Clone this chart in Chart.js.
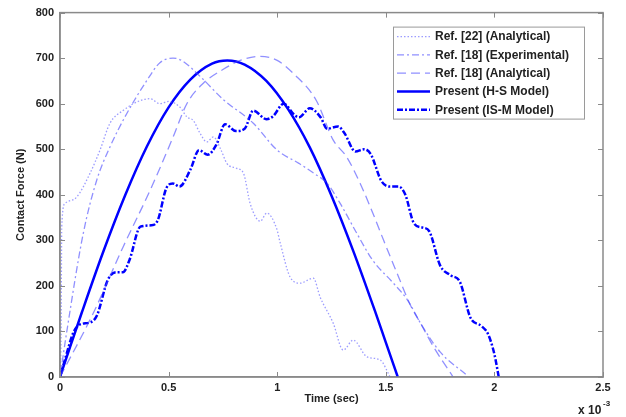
<!DOCTYPE html>
<html>
<head>
<meta charset="utf-8">
<script src="https://cdn.jsdelivr.net/npm/chart.js@4/dist/chart.umd.min.js"></script>
<style>
  html, body { margin: 0; padding: 0; background: #fff; }
  #wrap { width: 626px; height: 417px; }
</style>
</head>
<body>
<div id="wrap"><canvas id="chart"></canvas></div>
<script>
// time values are in units of 1e-3 s (axis shows "x 10^-3")
const ref22Time = [0, 0.005, 0.008, 0.023, 0.077, 0.138, 0.184, 0.23, 0.29, 0.37, 0.415, 0.46, 0.5, 0.553, 0.584, 0.614, 0.645, 0.676, 0.706, 0.74, 0.768, 0.814, 0.845, 0.876, 0.922, 0.952, 0.998, 1.014, 1.06, 1.106, 1.166, 1.198, 1.258, 1.304, 1.35, 1.414, 1.475, 1.52];
const ref22Force = [0, 100, 330, 381, 395, 447, 498, 557, 585, 607, 611, 600, 605, 592, 571, 563, 535, 516, 527, 500, 469, 458, 447, 380, 342, 360, 325, 294, 219, 206, 217, 175, 118, 59, 81, 44, 37, 0];

const expTime = [0, 0.03, 0.107, 0.169, 0.23, 0.307, 0.4, 0.46, 0.52, 0.56, 0.645, 0.75, 0.89, 1.0, 1.1, 1.17, 1.23, 1.29, 1.367, 1.44, 1.535, 1.6, 1.66, 1.75, 1.87];
const expForce = [0, 96, 315, 432, 505, 578, 651, 690, 700, 695, 660, 610, 557, 498, 469, 447, 425, 381, 315, 256, 206, 169, 118, 55, 5];

const ref18Time = [0, 0.153, 0.29, 0.415, 0.52, 0.584, 0.66, 0.75, 0.83, 0.92, 1.0, 1.075, 1.18, 1.258, 1.32, 1.382, 1.44, 1.49, 1.55, 1.613, 1.66, 1.72, 1.81];
const ref18Force = [0, 140, 285, 410, 526, 600, 645, 675, 695, 704, 695, 666, 607, 520, 483, 425, 360, 300, 230, 158, 118, 66, 0];

const hsTime = [0, 0.05, 0.1, 0.2, 0.3, 0.4, 0.5, 0.6, 0.7, 0.77, 0.85, 0.95, 1.05, 1.15, 1.25, 1.35, 1.45, 1.5, 1.555];
const hsForce = [0, 71, 141, 276, 399, 506, 592, 653, 688, 695, 686, 650, 588, 504, 398, 277, 145, 76, 0];

const ismTime = [0, 0.03, 0.06, 0.09, 0.14, 0.17, 0.22, 0.26, 0.29, 0.32, 0.37, 0.42, 0.45, 0.49, 0.52, 0.55, 0.6, 0.64, 0.68, 0.72, 0.76, 0.81, 0.85, 0.89, 0.95, 0.98, 1.03, 1.08, 1.1, 1.15, 1.2, 1.23, 1.28, 1.31, 1.36, 1.4, 1.43, 1.48, 1.52, 1.56, 1.59, 1.63, 1.67, 1.7, 1.75, 1.8, 1.84, 1.89, 1.94, 1.97, 2.0, 2.02];
const ismForce = [0, 50, 96, 115, 120, 135, 213, 230, 230, 257, 330, 333, 344, 415, 425, 418, 455, 498, 488, 510, 555, 540, 545, 585, 566, 572, 600, 575, 570, 590, 570, 545, 550, 535, 495, 500, 490, 430, 418, 418, 400, 337, 328, 320, 245, 223, 210, 130, 112, 95, 50, 0];

const seriesLabels = ["Ref. [22] (Analytical)", "Ref. [18] (Experimental)", "Ref. [18] (Analytical)", "Present (H-S Model)", "Present (IS-M Model)"];
const xTickValues = [0, 0.5, 1, 1.5, 2, 2.5];

const pts = (t, f) => t.map((x, i) => ({ x: x, y: f[i] }));

const lightBlue = "rgba(70, 70, 255, 0.6)";
const darkBlue = "#0000ff";
const fontFamily = "'Liberation Sans', Arial, sans-serif";

// MATLAB-like box with inward ticks, exponent label and framed legend
const figurePlugin = {
  id: "figure",
  afterDraw(chart) {
    const ctx = chart.ctx;
    const a = chart.chartArea;
    const xs = chart.scales.x, ys = chart.scales.y;
    ctx.save();
    ctx.strokeStyle = "#8a8a8a";
    ctx.lineWidth = 1.5;
    ctx.setLineDash([]);
    ctx.strokeRect(a.left, a.top, a.right - a.left, a.bottom - a.top);
    ctx.lineWidth = 1;
    ctx.beginPath();
    xs.ticks.forEach(t => {
      const px = Math.round(xs.getPixelForValue(t.value)) + 0.5;
      ctx.moveTo(px, a.bottom); ctx.lineTo(px, a.bottom - 5);
      ctx.moveTo(px, a.top); ctx.lineTo(px, a.top + 5);
    });
    ys.ticks.forEach(t => {
      const py = Math.round(ys.getPixelForValue(t.value)) + 0.5;
      ctx.moveTo(a.left, py); ctx.lineTo(a.left + 5, py);
      ctx.moveTo(a.right, py); ctx.lineTo(a.right - 5, py);
    });
    ctx.stroke();

    // exponent
    ctx.fillStyle = "#222";
    ctx.font = "bold 12px " + fontFamily;
    ctx.textBaseline = "alphabetic";
    ctx.textAlign = "left";
    ctx.fillText("x 10", 578, 414);
    ctx.font = "bold 8px " + fontFamily;
    ctx.fillText("-3", 603, 406);

    // legend
    const lx = a.right - 210, ly = a.top + 14, lw = 191, lh = 92;
    ctx.fillStyle = "#fff";
    ctx.fillRect(lx, ly, lw, lh);
    ctx.strokeStyle = "#9a9a9a";
    ctx.lineWidth = 1;
    ctx.strokeRect(lx + 0.5, ly + 0.5, lw, lh);
    ctx.font = "bold 12px " + fontFamily;
    ctx.textBaseline = "middle";
    chart.data.datasets.forEach((ds, i) => {
      const ry = ly + 10 + i * 18.3;
      ctx.strokeStyle = ds.borderColor;
      ctx.lineWidth = ds.borderWidth;
      ctx.setLineDash(ds.borderDash || []);
      ctx.beginPath();
      ctx.moveTo(lx + 4, ry);
      ctx.lineTo(lx + 37, ry);
      ctx.stroke();
      ctx.setLineDash([]);
      ctx.fillStyle = "#222";
      ctx.fillText(ds.label, lx + 42, ry + 0.5);
    });
    ctx.restore();
  }
};

new Chart(document.getElementById("chart"), {
  type: "scatter",
  data: {
    datasets: [
      {
        label: seriesLabels[0],
        data: pts(ref22Time, ref22Force),
        borderColor: "rgba(90, 90, 255, 0.6)",
        borderWidth: 1.3,
        borderDash: [1.5, 2],
      },
      {
        label: seriesLabels[1],
        data: pts(expTime, expForce),
        borderColor: lightBlue,
        borderWidth: 1.3,
        borderDash: [7, 3, 2, 3],
      },
      {
        label: seriesLabels[2],
        data: pts(ref18Time, ref18Force),
        borderColor: lightBlue,
        borderWidth: 1.3,
        borderDash: [9, 5],
      },
      {
        label: seriesLabels[3],
        data: pts(hsTime, hsForce),
        borderColor: darkBlue,
        borderWidth: 2.5,
      },
      {
        label: seriesLabels[4],
        data: pts(ismTime, ismForce),
        borderColor: darkBlue,
        borderWidth: 2.5,
        borderDash: [6, 2, 2, 2],
      },
    ].map(ds => Object.assign({ showLine: true, pointRadius: 0, fill: false, cubicInterpolationMode: "monotone" }, ds)),
  },
  options: {
    responsive: true,
    maintainAspectRatio: false,
    animation: false,
    layout: { padding: { left: 0, right: 23, top: 12, bottom: 0 } },
    plugins: {
      legend: { display: false },
      tooltip: { enabled: false },
    },
    scales: {
      x: {
        type: "linear",
        min: 0,
        max: 2.5,
        afterBuildTicks: (scale) => { scale.ticks = xTickValues.map(v => ({ value: v })); },
        afterFit: (scale) => { scale.height = 40; },
        ticks: {
          color: "#222",
          padding: 4,
          maxRotation: 0,
          callback: (value) => String(value),
          font: { family: fontFamily, size: 11, weight: "bold" },
        },
        grid: { drawOnChartArea: false, drawTicks: false },
        border: { color: "#8a8a8a", width: 1.5 },
        title: {
          display: true,
          text: "Time (sec)",
          color: "#222",
          padding: { top: 0, bottom: 11 },
          font: { family: fontFamily, size: 11, weight: "bold" },
        },
      },
      y: {
        min: 0,
        max: 800,
        afterFit: (scale) => { scale.width = 60; },
        ticks: {
          stepSize: 100,
          color: "#222",
          padding: 6,
          font: { family: fontFamily, size: 11, weight: "bold" },
        },
        grid: { drawOnChartArea: false, drawTicks: false },
        border: { color: "#8a8a8a", width: 1.5 },
        title: {
          display: true,
          text: "Contact Force (N)",
          color: "#222",
          padding: { top: 14, bottom: 0 },
          font: { family: fontFamily, size: 11, weight: "bold" },
        },
      },
    },
  },
  plugins: [figurePlugin],
});
</script>
</body>
</html>
